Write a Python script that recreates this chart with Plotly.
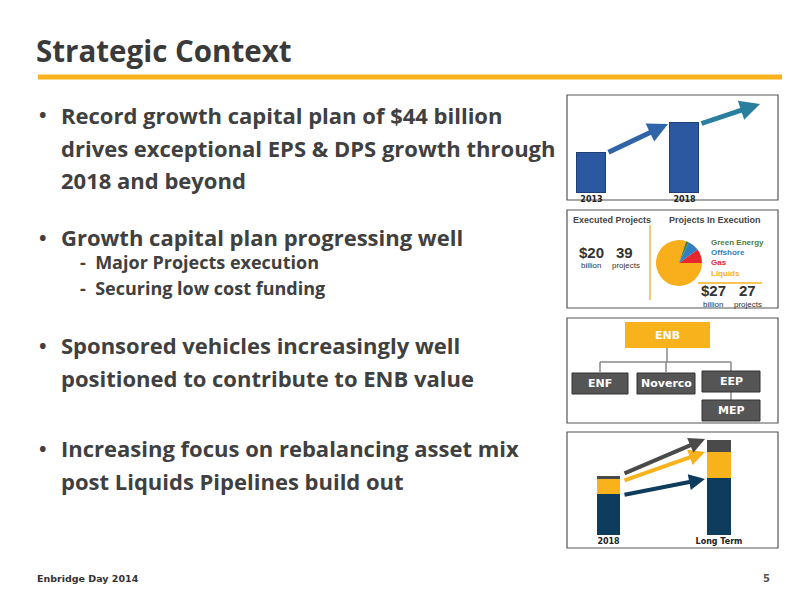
import plotly.graph_objects as go

# page body has an 8px margin: figure is sized so it fits the 800x600 window
OFF = 8
W, H = 792, 592
def px(x): return (x - OFF) / W
def py(y): return 1 - (y - OFF) / H

YEL = "#F7B21C"; DARK = "#404040"; NAVY = "#0E3C5C"; GRAY = "#4A4A4A"; BLUE = "#2B58A0"

# data
bar1_cats = ["2013", "2018"]
bar1_vals = [40, 70]
pie_labels = ["Liquids", "Gas", "Offshore", "Green Energy"]
pie_vals = [80, 10, 8, 2]
pie_colors = ["#F9AE1B", "#E8262E", "#2F7FC1", "#4E7D3A"]
bar4_cats = ["2018", "Long Term"]
bar4_base = [41, 57]
bar4_mid = [15, 26]
bar4_top = [3, 12]
bullets = [
    (115, ["Record growth capital plan of $44 billion",
           "drives exceptional EPS & DPS growth through",
           "2018 and beyond"]),
    (237, ["Growth capital plan progressing well"]),
    (345, ["Sponsored vehicles increasingly well",
           "positioned to contribute to ENB value"]),
    (448, ["Increasing focus on rebalancing asset mix",
           "post Liquids Pipelines build out"]),
]
subs = [(262, "Major Projects execution"), (288, "Securing low cost funding")]

fig = go.Figure()
FONT = "Open Sans"

fig.add_trace(go.Bar(x=bar1_cats, y=bar1_vals, marker=dict(color=BLUE, line=dict(color="#1E3F78", width=1)),
                     width=0.31, xaxis="x", yaxis="y", showlegend=False))
for vals, c in [(bar4_base, NAVY), (bar4_mid, YEL), (bar4_top, GRAY)]:
    fig.add_trace(go.Bar(x=bar4_cats, y=vals, marker=dict(color=c, line=dict(width=0)), width=0.21,
                         xaxis="x2", yaxis="y2", showlegend=False))
fig.add_trace(go.Pie(values=pie_vals, labels=pie_labels, marker=dict(colors=pie_colors, line=dict(width=0)),
                     sort=False, direction="counterclockwise", rotation=90, textinfo="none", hoverinfo="label",
                     domain=dict(x=[px(656), px(702)], y=[py(286), py(240)]), showlegend=False))

ax_common = dict(showgrid=False, zeroline=False, showline=False, fixedrange=True)
shapes = []
ann = []
def rect(x0, y0, x1, y1, fill=None, line=None, lw=1, layer="above"):
    shapes.append(dict(type="rect", xref="paper", yref="paper", x0=px(x0), x1=px(x1), y0=py(y1), y1=py(y0), layer=layer,
                       fillcolor=fill or "rgba(0,0,0,0)", line=dict(color=line or "rgba(0,0,0,0)", width=lw)))
def line(x0, y0, x1, y1, c, w):
    shapes.append(dict(type="line", xref="paper", yref="paper", x0=px(x0), x1=px(x1), y0=py(y0), y1=py(y1),
                       line=dict(color=c, width=w)))
def text(x, y, t, size, color=DARK, bold=False, anchor="left", family=FONT):
    ann.append(dict(x=px(x), y=py(y), xref="paper", yref="paper", text=f"<b>{t}</b>" if bold else t,
                    showarrow=False, xanchor=anchor, yanchor="middle", font=dict(size=size, color=color, family=family)))
def arrow(x0, y0, x1, y1, c, w):
    ann.append(dict(x=px(x1), y=py(y1), xref="paper", yref="paper", ax=x0 - x1, ay=y0 - y1, axref="pixel", ayref="pixel",
                    showarrow=True, arrowhead=2, arrowsize=0.8, arrowwidth=w, arrowcolor=c, text=""))

text(34, 50, "Strategic Context", 29.5, "#3A3A3A", True)
line(38, 77, 782, 77, YEL, 5)
for y0, lines in bullets:
    text(37, y0, "•", 20, DARK, True)
    for i, l in enumerate(lines):
        text(59, y0 + i * 32.5, l, 22, DARK, True)
for y, t in subs:
    text(78, y, "-  " + t, 18, DARK, True)
text(35, 578, "Enbridge Day 2014", 9.5, "#333", True, family="DejaVu Sans")
text(772, 578, "5", 10, "#555", True, anchor="right", family="DejaVu Sans")

for y0, y1 in [(95, 200), (210, 308), (318, 423), (432, 548)]:
    rect(567, y0, 778, y1, "white", "#555", 1.2, layer="below")

arrow(607, 153, 668, 124, "#2F64A8", 5)
arrow(700, 124, 760, 104, "#2A7F9E", 5)

text(571, 220, "Executed Projects", 9, "#444", True, family="Liberation Sans")
text(667, 220, "Projects In Execution", 9, "#444", True, family="Liberation Sans")
line(650, 225, 650, 300, "#F5C97A", 2)
line(698, 283, 762, 283, YEL, 1.5)
text(577, 253, "$20", 15, "#333", True, family="Liberation Sans")
text(579, 265, "billion", 8, "#333", family="Liberation Sans")
text(614, 253, "39", 15, "#333", True, family="Liberation Sans")
text(610, 265, "projects", 8, "#333", family="Liberation Sans")
for i, (l, c) in enumerate(zip(["Green Energy", "Offshore", "Gas", "Liquids"], ["#4E7D3A", "#2F7FC1", "#E8262E", "#F9AE1B"])):
    text(709, 242 + i * 10.5, l, 8, c, True, family="Liberation Sans")
text(699, 290, "$27", 15, "#333", True, family="Liberation Sans")
text(701, 304, "billion", 8, "#333", family="Liberation Sans")
text(737, 290, "27", 15, "#333", True, family="Liberation Sans")
text(732, 304, "projects", 8, "#333", family="Liberation Sans")

line(667, 348, 667, 362, "#888", 1.5)
line(600, 362, 731, 362, "#888", 1.5)
for x in [600, 666, 731]:
    line(x, 362, x, 372, "#888", 1.5)
line(731, 392, 731, 400, "#888", 1.5)
rect(625, 322, 710, 348, YEL)
text(667, 335, "ENB", 11, "white", True, "center", "DejaVu Sans")
for x0, x1, y0, y1, t in [(572, 628, 373, 394, "ENF"), (637, 695, 373, 394, "Noverco"),
                          (702, 760, 371, 392, "EEP"), (702, 760, 400, 421, "MEP")]:
    rect(x0, y0, x1, y1, "#555555", "#333", 1)
    text((x0 + x1) / 2, (y0 + y1) / 2, t, 11, "white", True, "center", "DejaVu Sans")

arrow(623, 495, 705, 479, NAVY, 4)
arrow(623, 481, 705, 452, YEL, 4)
arrow(623, 474, 705, 439, GRAY, 4)

fig.update_layout(
    width=W, height=H, margin=dict(l=0, r=0, t=0, b=0), paper_bgcolor="white", plot_bgcolor="rgba(0,0,0,0)",
    barmode="stack", bargap=0, shapes=shapes, annotations=ann,
    xaxis=dict(domain=[px(567), px(778)], range=[-0.263, 2.005], tickfont=dict(size=8, color="#222", family="DejaVu Sans"),
               ticks="", showticklabels=True, **ax_common),
    yaxis=dict(domain=[py(193), py(100)], range=[0, 93], showticklabels=False, **ax_common),
    xaxis2=dict(domain=[px(567), px(778)], range=[-0.376, 1.534], tickfont=dict(size=8, color="#222", family="DejaVu Sans"),
                ticks="", showticklabels=True, anchor="y2", **ax_common),
    yaxis2=dict(domain=[py(535), py(436)], range=[0, 99], showticklabels=False, anchor="x2", **ax_common),
)
fig.update_xaxes(tickprefix="<b>", ticksuffix="</b>")
fig.write_html("out.html")
